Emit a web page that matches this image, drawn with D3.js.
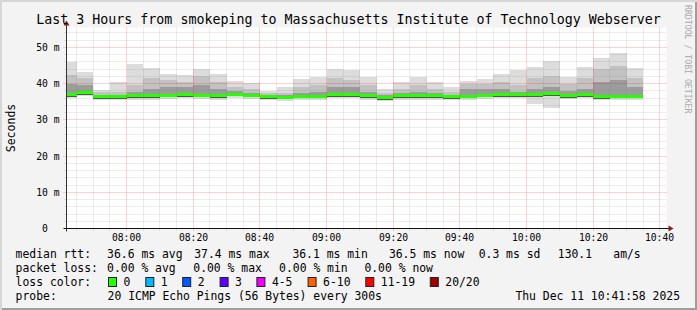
<!DOCTYPE html>
<html>
<head>
<meta charset="utf-8">
<script src="https://cdn.jsdelivr.net/npm/d3@7"></script>
<style>
  body { margin: 0; background: #fff; }
  svg { display: block; font-family: "DejaVu Sans Mono", monospace; }
  text { white-space: pre; }
</style>
</head>
<body>
<svg id="chart"></svg>
<script>
const title = "Last 3 Hours from smokeping to Massachusetts Institute of Technology Webserver";
const day = "2025-12-11";
const viewStart = "07:41:58";
const viewEnd = "10:41:58";

// 5 minute slots, start time of each
const slots = ["07:40","07:45","07:50","07:55","08:00","08:05","08:10","08:15","08:20","08:25",
  "08:30","08:35","08:40","08:45","08:50","08:55","09:00","09:05","09:10","09:15",
  "09:20","09:25","09:30","09:35","09:40","09:45","09:50","09:55","10:00","10:05",
  "10:10","10:15","10:20","10:25","10:30"];

// rtt in ms
const maxMs = [46.0,43.1,38.2,40.5,45.3,44.2,42.7,42.5,44.0,42.7,40.8,40.2,38.1,39.0,41.4,41.9,44.1,43.7,41.7,38.5,
  40.5,41.9,40.5,39.0,40.8,41.4,42.7,43.7,44.7,46.2,41.9,44.6,47.1,48.5,44.2];
const p90Ms = [42.5,41.5,37.6,37.8,39.5,41.5,41.0,40.5,42.0,40.5,39.0,38.5,37.3,37.5,39.0,39.5,41.5,41.0,39.5,37.5,
  38.5,39.5,38.5,37.8,40.0,40.0,40.5,39.5,41.5,42.0,40.0,41.5,44.0,45.0,41.5];
const p75Ms = [40.0,39.5,37.0,37.0,37.8,38.5,39.0,39.0,39.5,38.5,38.0,37.5,36.9,37.0,37.5,37.6,39.0,39.0,37.8,37.0,
  37.5,37.8,37.5,37.0,38.5,38.5,38.5,37.8,38.5,39.0,38.0,38.5,40.5,41.0,39.0];
const medianMs = [36.9,37.5,36.4,36.4,36.6,36.6,36.8,36.9,36.8,36.6,37.1,36.8,36.4,36.3,36.5,36.5,36.9,36.9,36.6,36.2,
  36.6,36.6,36.6,36.4,36.5,36.8,37.0,36.9,36.9,37.3,36.7,36.9,36.4,36.5,36.5];
const p25Ms = [36.3,36.9,35.8,35.8,36.0,36.0,36.2,36.3,36.2,36.0,36.5,36.2,35.8,35.7,35.9,35.9,36.3,36.3,36.0,35.6,
  36.0,36.0,36.0,35.8,35.9,36.2,36.4,36.3,36.3,36.7,36.1,36.3,35.8,35.9,35.9];
const minMs = [35.9,36.5,35.4,35.4,35.6,35.6,35.8,35.9,35.8,35.6,36.1,35.8,35.4,35.3,35.5,35.5,35.9,35.9,35.6,35.2,
  35.6,35.6,35.6,35.4,35.5,35.8,36.0,35.9,34.3,33.2,35.7,35.9,35.4,35.5,35.5];

const yTicks = [0, 10, 20, 30, 40, 50];
const yUnit = "m";

const rttStats = ["36.6 ms avg", "37.4 ms max", "36.1 ms min", "36.5 ms now", "0.3 ms sd", "130.1", "am/s"];
const lossStats = ["0.00 % avg", "0.00 % max", "0.00 % min", "0.00 % now"];
const lossNames = ["0", "1", "2", "3", "4-5", "6-10", "11-19", "20/20"];
const lossColors = ["#26ff00", "#00b8ff", "#0059ff", "#5e00ff", "#ee00ff", "#ff6000", "#ff0000", "#a10000"];
const probeText = "20 ICMP Echo Pings (56 Bytes) every 300s";
const stamp = "Thu Dec 11 10:41:58 2025";

const W = 697, H = 310;
const pLeft = 66.5, pRight = 666.5, pTop = 27.5, pBottom = 228.5;

const parse = d3.timeParse("%Y-%m-%d %H:%M:%S");
const t0 = parse(`${day} ${viewStart}`);
const t1 = parse(`${day} ${viewEnd}`);
const slotStart = slots.map(s => parse(`${day} ${s}:00`));

const x = d3.scaleTime().domain([t0, t1]).range([pLeft, pRight]);
const y = d3.scaleLinear().domain([0, 55.5]).range([pBottom, pTop]);
const crispX = t => Math.floor(x(t)) + 0.5;
const crispY = v => Math.round(y(v) - 0.5) + 0.5;

const svg = d3.select("#chart").attr("width", W).attr("height", H);

// frame
svg.append("rect").attr("width", W).attr("height", H).attr("fill", "#d6d6d6");
svg.append("rect").attr("x", 2).attr("y", 2).attr("width", W - 2).attr("height", H - 2).attr("fill", "#9e9e9e");
svg.append("rect").attr("x", 2).attr("y", 2).attr("width", W - 4).attr("height", H - 4).attr("fill", "#f3f3f3");

svg.append("rect")
  .attr("x", pLeft).attr("y", pTop)
  .attr("width", pRight - pLeft).attr("height", pBottom - pTop)
  .attr("fill", "#fff");

// smoke
const plot = svg.append("g");
const idx = d3.range(slots.length);
const barX0 = i => Math.max(x(slotStart[i]), pLeft + 0.5);
const barX1 = i => x(d3.timeMinute.offset(slotStart[i], 5));

function band(lo, hi, color) {
  plot.selectAll(null)
    .data(idx)
    .enter()
    .append("rect")
    .attr("x", barX0)
    .attr("width", i => barX1(i) - barX0(i))
    .attr("y", i => y(hi[i]))
    .attr("height", i => y(lo[i]) - y(hi[i]))
    .attr("fill", color)
    .attr("shape-rendering", "crispEdges");
}
band(minMs, maxMs, "#dcdcdc");
band(p25Ms, p90Ms, "#c2c2c2");
band(medianMs, p75Ms, "#9c9c9c");
band(p25Ms, medianMs, "#555555");

// median, colored by loss (all 0 here)
plot.selectAll(null)
  .data(idx)
  .enter()
  .append("rect")
  .attr("x", barX0)
  .attr("width", i => barX1(i) - barX0(i))
  .attr("y", i => y(medianMs[i]) - 1.5)
  .attr("height", 3)
  .attr("fill", lossColors[0])
  .attr("shape-rendering", "crispEdges");

// grid
const minorCol = "rgba(128,128,128,0.3)";
const majorCol = "rgba(255,0,0,0.35)";
const grid = svg.append("g").attr("fill", "none").attr("stroke-width", 1);

const minorTimes = d3.timeMinute.every(5).range(t0, t1);
const majorTimes = d3.timeMinute.every(20).range(t0, t1);

grid.selectAll(null).data(minorTimes.filter(t => t.getMinutes() % 20 !== 0)).enter()
  .append("line")
  .attr("x1", crispX).attr("x2", crispX)
  .attr("y1", pTop).attr("y2", pBottom + 2)
  .attr("stroke", minorCol).attr("stroke-dasharray", "1,1");

const minorVals = d3.range(2, 55.5, 2).filter(v => v % 10 !== 0);
grid.selectAll(null).data(minorVals).enter()
  .append("line")
  .attr("x1", pLeft - 2).attr("x2", pRight)
  .attr("y1", crispY).attr("y2", crispY)
  .attr("stroke", minorCol).attr("stroke-dasharray", "1,1");

grid.selectAll(null).data(majorTimes).enter()
  .append("line")
  .attr("x1", crispX).attr("x2", crispX)
  .attr("y1", pTop).attr("y2", pBottom + 3)
  .attr("stroke", majorCol).attr("stroke-dasharray", "1,1");

grid.selectAll(null).data(yTicks.filter(v => v > 0)).enter()
  .append("line")
  .attr("x1", pLeft - 3).attr("x2", pRight)
  .attr("y1", crispY).attr("y2", crispY)
  .attr("stroke", majorCol).attr("stroke-dasharray", "1,1");

// axes
svg.append("line")
  .attr("x1", pLeft).attr("x2", pLeft)
  .attr("y1", pTop - 3).attr("y2", pBottom + 3)
  .attr("stroke", "#333");
svg.append("line")
  .attr("x1", pLeft - 3).attr("x2", pRight + 3)
  .attr("y1", pBottom).attr("y2", pBottom)
  .attr("stroke", "#111");
svg.append("path")
  .attr("d", `M${pLeft - 3},${pTop - 2} L${pLeft + 3},${pTop - 2} L${pLeft},${pTop - 7} Z`)
  .attr("fill", "#8b1a1a");
svg.append("path")
  .attr("d", `M${pRight + 2},${pBottom - 3} L${pRight + 2},${pBottom + 3} L${pRight + 7},${pBottom} Z`)
  .attr("fill", "#8b1a1a");

// y labels
svg.append("g").selectAll("text")
  .data(yTicks)
  .enter()
  .append("text")
  .attr("x", 59.5)
  .attr("y", v => crispY(v))
  .attr("dy", "0.36em")
  .attr("text-anchor", "end")
  .style("font-size", "9.7px")
  .text(v => v === 0 ? "0  " : `${v} ${yUnit}`);

// x labels
svg.append("g").selectAll("text")
  .data(majorTimes)
  .enter()
  .append("text")
  .attr("x", crispX)
  .attr("y", 238)
  .attr("dy", "0.36em")
  .attr("text-anchor", "middle")
  .style("font-size", "9.7px")
  .text(d3.timeFormat("%H:%M"));

// titles
svg.append("text")
  .attr("x", W / 2).attr("y", 19.3).attr("dy", "0.36em")
  .attr("text-anchor", "middle")
  .style("font-size", "13.3px")
  .text(title);

svg.append("text")
  .attr("transform", `translate(10.5,${(pTop + pBottom) / 2}) rotate(-90)`)
  .attr("dy", "0.36em")
  .attr("text-anchor", "middle")
  .style("font-size", "11.5px")
  .text("Seconds");

svg.append("text")
  .attr("transform", "translate(687.5,5) rotate(90)")
  .attr("dy", "0.36em")
  .style("font-size", "8.2px")
  .attr("fill", "#aaaaaa")
  .text("RRDTOOL / TOBI OETIKER");

// legend
const legend = svg.append("g").style("font-size", "11.4px");
const row = (txt, px, py, anchor) => legend.append("text")
  .attr("x", px).attr("y", py).attr("dy", "0.36em")
  .attr("text-anchor", anchor || "start")
  .text(txt);

const rttX = [107.1, 194.2, 292.4, 388.9, 478.7, 557.8, 613.3];
row("median rtt:", 15.6, 254.3);
rttStats.forEach((s, i) => row(s, rttX[i], 254.3));

const lossX = [107.1, 193.3, 279.1, 364.4];
row("packet loss:", 15.6, 268.3);
lossStats.forEach((s, i) => row(s, lossX[i], 268.3));

const boxX = [108, 145.3, 182.2, 219.6, 256.4, 307.6, 365.3, 429.8];
row("loss color:", 15.6, 282.3);
lossNames.forEach((s, i) => {
  legend.append("rect")
    .attr("x", boxX[i] + 0.5).attr("y", 277.5)
    .attr("width", 8).attr("height", 9)
    .attr("fill", lossColors[i])
    .attr("stroke", "#222");
  row(s, boxX[i] + 15.5, 282.3);
});

row("probe:", 15.6, 296.3);
row(probeText, 107.6, 296.3);
row(stamp, 680, 296.3, "end");
</script>
</body>
</html>
